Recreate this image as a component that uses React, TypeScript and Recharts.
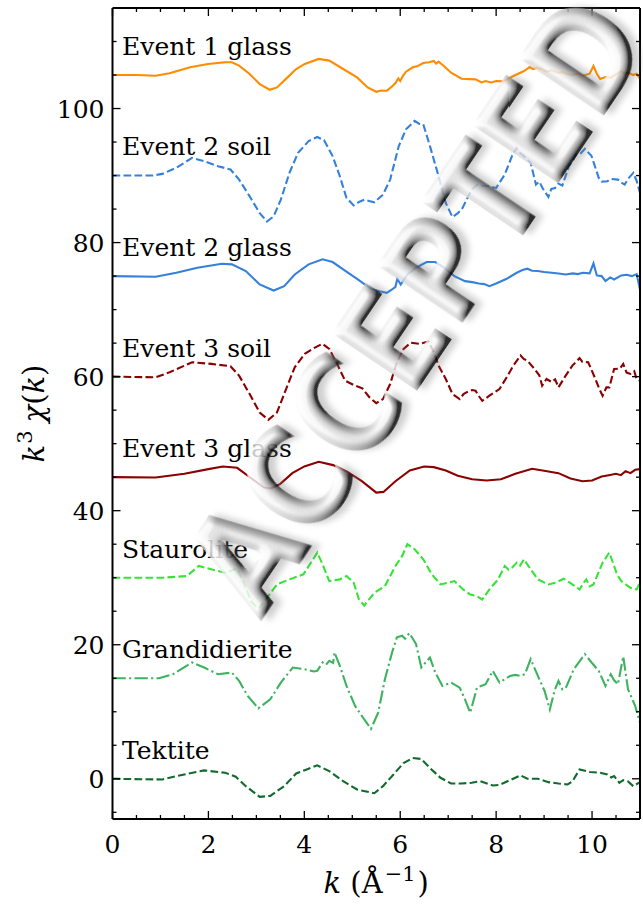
import React from 'react';
import { LineChart, Line, XAxis, YAxis, ReferenceDot } from 'recharts';

type Pt = [number, number];

// k (1/Å) vs k^3 chi(k), each spectrum stored without its vertical stacking offset
const event1Glass: Pt[] = [[0,0],[0.5,0],[0.9,-0.1],[1.19,0.25],[1.62,1.15],[1.99,1.65],[2.35,1.9],[2.49,1.9],[2.64,1.4],[2.86,0.15],[3.07,-1.35],[3.28,-2.2],[3.43,-1.85],[3.65,-0.35],[3.83,0.9],[4.01,1.65],[4.3,2.4],[4.52,2.15],[4.81,0.9],[5.1,-0.35],[5.32,-1.85],[5.5,-2.5],[5.6,-2.3],[5.72,-2.35],[5.83,-1.7],[5.9,-1.2],[5.96,-0.5],[6.0,-0.9],[6.05,-0.2],[6.12,0.5],[6.26,1.15],[6.35,1.3],[6.48,1.8],[6.6,1.9],[6.7,2.1],[6.75,1.7],[6.8,2.0],[6.91,1.35],[7.06,0.35],[7.28,-0.55],[7.57,-0.65],[7.7,-1.1],[7.78,-0.9],[7.9,-1.1],[8.0,-0.9],[8.14,-0.95],[8.36,-0.15],[8.58,0.6],[8.7,1.2],[8.77,0.9],[8.85,1.1],[8.96,0.85],[9.05,0.5],[9.16,0.7],[9.3,0.3],[9.38,0.45],[9.5,0.1],[9.6,0.0],[9.7,0.2],[9.81,-0.1],[9.95,0.2],[10.03,1.35],[10.1,0.2],[10.17,-0.6],[10.28,-0.3],[10.39,-0.4],[10.5,0.1],[10.61,0.6],[10.68,0.2],[10.75,0.4],[10.85,0.0],[10.93,0.2],[11.0,-0.6]];

const event2Soil: Pt[] = [[0,0],[0.83,0],[1.04,0.25],[1.33,1.15],[1.66,2.65],[1.91,2.15],[2.2,1.4],[2.46,0.9],[2.64,-0.6],[2.86,-3.1],[3.07,-5.6],[3.22,-6.85],[3.36,-6.1],[3.51,-3.6],[3.69,0.4],[3.87,3.4],[4.09,5.15],[4.27,5.75],[4.41,5.3],[4.59,2.9],[4.74,-0.1],[4.88,-3.35],[5.03,-4.45],[5.15,-3.9],[5.25,-3.6],[5.35,-3.8],[5.46,-4.0],[5.64,-2.85],[5.79,-0.6],[5.97,4.4],[6.12,6.9],[6.3,8.15],[6.4,7.7],[6.48,7.65],[6.62,4.4],[6.8,-0.1],[6.95,-4.1],[7.09,-6.2],[7.2,-5.6],[7.28,-5.1],[7.49,-2.1],[7.6,-1.4],[7.71,-1.5],[7.85,-1.6],[8.0,-1.85],[8.18,0.15],[8.33,2.9],[8.43,4.15],[8.5,3.4],[8.58,2.9],[8.65,2.4],[8.72,1.9],[8.83,-1.35],[8.9,-0.9],[8.97,-1.9],[9.09,-3.2],[9.15,-2.0],[9.23,-1.85],[9.3,-1.2],[9.38,-1.5],[9.52,1.4],[9.6,2.2],[9.67,3.15],[9.75,3.2],[9.85,4.0],[9.99,2.9],[10.14,-0.35],[10.2,-0.9],[10.32,-0.85],[10.4,-0.5],[10.54,-0.6],[10.6,-1.0],[10.68,-1.35],[10.75,-0.5],[10.86,0.4],[10.93,-0.8],[11.0,-2.6]];

const event2Glass: Pt[] = [[0,0],[0.9,-0.1],[1.33,0.5],[1.77,1.25],[2.28,1.85],[2.49,1.75],[2.78,0.75],[3.07,-1.25],[3.36,-2.15],[3.58,-1.5],[3.8,0.25],[4.09,1.75],[4.38,2.5],[4.59,2.1],[4.81,1.0],[5.1,-0.4],[5.39,-1.9],[5.57,-2.25],[5.72,-2.5],[5.83,-2.0],[5.9,-1.6],[5.94,-0.4],[6.01,-1.25],[6.15,0.25],[6.33,1.25],[6.55,2.1],[6.73,2.1],[6.91,1.25],[7.13,0.0],[7.35,-0.75],[7.5,-0.9],[7.64,-1.1],[7.75,-1.2],[7.86,-1.5],[8.0,-1.1],[8.22,-0.4],[8.43,0.5],[8.55,0.9],[8.65,1.1],[8.75,0.8],[8.87,0.75],[9.0,0.6],[9.16,0.5],[9.3,0.4],[9.45,0.25],[9.6,0.4],[9.7,0.3],[9.81,0.5],[9.95,0.4],[10.03,1.9],[10.1,0.1],[10.2,0.0],[10.28,-0.75],[10.38,-0.2],[10.46,-0.5],[10.61,0.1],[10.72,0.2],[10.83,0.0],[10.93,0.3],[11.0,-2.0]];

const event3Soil: Pt[] = [[0,0],[0.9,-0.1],[1.19,0.65],[1.66,2.15],[2.06,1.9],[2.46,1.55],[2.64,0.15],[2.86,-2.6],[3.07,-5.35],[3.25,-6.45],[3.43,-5.35],[3.62,-1.85],[3.8,1.4],[4.01,3.4],[4.2,4.25],[4.38,4.9],[4.52,4.15],[4.7,1.65],[4.85,-0.6],[5.03,-1.25],[5.21,-1.75],[5.36,-3.1],[5.5,-3.95],[5.64,-3.35],[5.79,-1.1],[5.93,2.15],[6.07,4.15],[6.22,5.05],[6.41,4.9],[6.59,5.25],[6.7,3.65],[6.8,1.65],[6.95,-0.35],[7.09,-2.6],[7.24,-3.35],[7.32,-2.6],[7.38,-2.35],[7.5,-2.0],[7.57,-2.1],[7.65,-3.0],[7.71,-3.6],[7.86,-2.85],[8.07,-1.85],[8.22,-0.1],[8.36,1.65],[8.51,3.15],[8.58,2.6],[8.65,2.4],[8.8,1.15],[8.9,0.2],[8.96,-1.35],[9.05,-0.35],[9.16,-0.8],[9.23,-0.4],[9.3,-1.6],[9.45,0.15],[9.59,1.65],[9.74,2.75],[9.8,2.2],[9.92,2.15],[10.07,-0.35],[10.15,-1.8],[10.22,-2.85],[10.3,-1.6],[10.36,-1.6],[10.46,1.15],[10.58,1.2],[10.65,1.9],[10.72,0.6],[10.8,0.4],[10.88,0.8],[10.93,-0.35],[11.0,-0.6]];

const event3Glass: Pt[] = [[0,0],[0.9,-0.05],[1.5,0.5],[2.0,1.2],[2.3,1.6],[2.6,1.4],[2.9,-0.2],[3.15,-1.5],[3.3,-1.7],[3.5,-1.0],[3.75,0.6],[4.0,1.6],[4.3,2.3],[4.6,1.8],[4.9,0.8],[5.2,-0.6],[5.5,-2.3],[5.65,-2.2],[5.9,-0.6],[6.2,1.0],[6.5,1.6],[6.7,1.5],[6.95,1.0],[7.2,0.2],[7.5,-0.3],[7.8,-0.5],[8.1,-0.3],[8.4,0.5],[8.75,1.25],[9.0,0.95],[9.3,0.6],[9.55,-0.2],[9.8,-0.6],[10.0,-0.5],[10.2,0.1],[10.35,0.3],[10.5,0.5],[10.6,0.3],[10.7,0.9],[10.8,0.6],[10.9,1.1],[11.0,1.2]];

const staurolite: Pt[] = [[0,0],[1.04,0],[1.55,0.25],[1.8,1.75],[2.06,1.25],[2.35,0.75],[2.6,1.35],[2.75,-1.0],[2.89,-3.5],[3.04,-4.65],[3.22,-3.0],[3.43,-1.0],[3.69,-0.25],[3.98,0.5],[4.16,2.5],[4.27,3.75],[4.38,2.0],[4.52,-0.5],[4.74,-0.25],[4.88,0.25],[5.03,-0.75],[5.14,-3.25],[5.25,-4.15],[5.46,-2.25],[5.68,-1.25],[5.9,1.75],[6.04,3.25],[6.15,5.0],[6.3,4.25],[6.48,2.75],[6.66,0.5],[6.84,-1.0],[6.99,-0.75],[7.13,-0.5],[7.31,-1.75],[7.46,-2.5],[7.6,-2.75],[7.71,-3.25],[7.86,-1.75],[8.04,-0.25],[8.18,1.75],[8.26,1.2],[8.33,1.5],[8.43,2.25],[8.5,1.8],[8.58,2.75],[8.72,1.25],[8.87,-0.25],[9.09,-1.0],[9.23,-0.75],[9.41,-0.15],[9.56,-0.85],[9.74,-1.75],[9.82,-0.8],[9.88,-0.25],[9.95,-1.3],[10.03,-1.0],[10.22,2.25],[10.36,3.75],[10.46,1.75],[10.52,0.5],[10.61,-0.5],[10.8,-1.5],[10.93,-1.75],[11.0,-0.75]];

const grandidierite: Pt[] = [[0,0],[0.97,0],[1.26,0.6],[1.66,2.35],[1.91,1.6],[2.2,0.6],[2.49,0.85],[2.64,-0.4],[2.82,-2.65],[3.04,-4.5],[3.29,-3.15],[3.51,-0.65],[3.76,1.6],[4.01,1.35],[4.2,1.0],[4.27,1.1],[4.38,2.35],[4.45,2.0],[4.52,2.6],[4.6,2.3],[4.63,3.85],[4.74,1.85],[4.88,-1.15],[5.06,-4.15],[5.25,-6.15],[5.39,-7.55],[5.54,-5.15],[5.68,-0.15],[5.83,3.85],[5.93,6.1],[6.04,6.35],[6.1,5.9],[6.19,6.75],[6.33,5.1],[6.44,1.6],[6.62,3.1],[6.73,0.85],[6.88,-1.15],[7.06,-0.65],[7.24,-1.4],[7.35,-3.15],[7.46,-5.15],[7.6,-1.4],[7.78,-0.9],[7.93,1.1],[8.07,-0.65],[8.29,0.35],[8.4,0.5],[8.51,0.35],[8.6,0.6],[8.72,2.85],[8.87,0.35],[9.01,-1.9],[9.12,-4.65],[9.22,-1.8],[9.3,-0.4],[9.38,-1.65],[9.45,-1.5],[9.62,1.35],[9.85,3.6],[9.99,2.35],[10.14,1.1],[10.28,-1.15],[10.39,0.6],[10.46,-0.3],[10.54,-0.9],[10.65,3.25],[10.75,-1.65],[10.9,-4.15],[11.0,-6.65]];

const tektite: Pt[] = [[0,0],[1.04,-0.1],[1.33,0.4],[1.91,1.25],[2.35,0.9],[2.57,0.3],[2.78,-1.1],[3.07,-2.7],[3.29,-2.55],[3.58,-1.1],[3.83,0.8],[4.05,1.4],[4.27,2.0],[4.52,1.15],[4.81,-0.35],[5.1,-1.6],[5.46,-2.15],[5.64,-1.1],[5.86,0.65],[6.07,2.35],[6.26,3.1],[6.44,2.95],[6.62,1.6],[6.84,0.15],[7.06,-0.7],[7.28,-0.7],[7.49,-0.6],[7.67,-0.35],[7.93,-1.0],[8.07,-0.9],[8.29,-0.2],[8.51,0.5],[8.65,0.0],[8.87,0.0],[9.09,-0.5],[9.3,-0.7],[9.49,-0.85],[9.59,-0.4],[9.74,1.4],[9.96,1.0],[10.17,0.9],[10.32,0.65],[10.4,0.2],[10.46,0.4],[10.57,-0.6],[10.65,-0.2],[10.75,-0.4],[10.86,-1.1],[11.0,-0.5]];

const seriesNames = ['Event 1 glass', 'Event 2 soil', 'Event 2 glass', 'Event 3 soil', 'Event 3 glass', 'Staurolite', 'Grandidierite', 'Tektite'];
const seriesValues = [event1Glass, event2Soil, event2Glass, event3Soil, event3Glass, staurolite, grandidierite, tektite];
const seriesOffsets = [105, 90, 75, 60, 45, 30, 15, 0];
const seriesColors = ['#ff8c00', '#3580dc', '#3580dc', '#8b0000', '#8b0000', '#36e336', '#3cb35e', '#126b2c'];
const seriesDashes = ['', '7.7 3.3', '', '7.7 3.3', '', '7.7 3.3', '13.3 3.3 2.1 3.3', '7.7 3.3'];

const xTicks = [0, 0.5, 1, 1.5, 2, 2.5, 3, 3.5, 4, 4.5, 5, 5.5, 6, 6.5, 7, 7.5, 8, 8.5, 9, 9.5, 10, 10.5];
const yTicks = [-5, 0, 5, 10, 15, 20, 25, 30, 35, 40, 45, 50, 55, 60, 65, 70, 75, 80, 85, 90, 95, 100, 105, 110];
const labelK = 0.2;
const labelLift = 3;
const stampText = 'ACCEPTED';

const SERIF = '"DejaVu Serif", serif';
const MAJOR = 8;
const MINOR = 4;

const series = seriesNames.map((name, i) => ({
  name,
  offset: seriesOffsets[i],
  color: seriesColors[i],
  dash: seriesDashes[i],
  data: seriesValues[i].map(([k, v]) => ({ k, chi: v + seriesOffsets[i] })),
}));

const isMajorX = (v: number) => Math.abs(v % 2) < 1e-9;
const isMajorY = (v: number) => Math.abs(v % 20) < 1e-9;

function BottomTick(props: any) {
  const { x, y, payload } = props;
  const major = isMajorX(payload.value);
  return (
    <g>
      <line x1={x} x2={x} y1={y} y2={y - (major ? MAJOR : MINOR)} stroke="#000" strokeWidth={1.3} />
      {major && (
        <text x={x} y={y + 34} textAnchor="middle" fontSize={25} fontFamily={SERIF} fill="#000">
          {payload.value}
        </text>
      )}
    </g>
  );
}

function TopTick(props: any) {
  const { x, y, payload } = props;
  const major = isMajorX(payload.value);
  return <line x1={x} x2={x} y1={y} y2={y + (major ? MAJOR : MINOR)} stroke="#000" strokeWidth={1.3} />;
}

function LeftTick(props: any) {
  const { x, y, payload } = props;
  const major = isMajorY(payload.value);
  return (
    <g>
      <line x1={x} x2={x + (major ? MAJOR : MINOR)} y1={y} y2={y} stroke="#000" strokeWidth={1.3} />
      {major && (
        <text x={x - 8} y={y + 9} textAnchor="end" fontSize={25} fontFamily={SERIF} fill="#000">
          {payload.value}
        </text>
      )}
    </g>
  );
}

function RightTick(props: any) {
  const { x, y, payload } = props;
  const major = isMajorY(payload.value);
  return <line x1={x} x2={x - (major ? MAJOR : MINOR)} y1={y} y2={y} stroke="#000" strokeWidth={1.3} />;
}

function XTitle(props: any) {
  const vb = props.viewBox;
  const cx = vb.x + vb.width / 2;
  return (
    <text x={cx} y={vb.y + 74} textAnchor="middle" fontSize={29} fontFamily={SERIF} fill="#000">
      <tspan fontStyle="italic">k</tspan>
      <tspan> (Å</tspan>
      <tspan fontSize={21} dy={-12} dx={2}>−1</tspan>
      <tspan dy={12} dx={2}>)</tspan>
    </text>
  );
}

function YTitle(props: any) {
  const vb = props.viewBox;
  const cx = vb.x + 31;
  const cy = vb.y + vb.height / 2;
  return (
    <text x={cx} y={cy} transform={`rotate(-90 ${cx} ${cy})`} textAnchor="middle" fontSize={29} fontFamily={SERIF} fill="#000">
      <tspan fontStyle="italic">k</tspan>
      <tspan fontSize={21} dy={-12} dx={1}>3</tspan>
      <tspan dy={12} dx={8} fontStyle="italic">χ</tspan>
      <tspan>(</tspan>
      <tspan fontStyle="italic">k</tspan>
      <tspan>)</tspan>
    </text>
  );
}

const makeNameLabel = (text: string) => (props: any) => {
  const vb = props.viewBox;
  return (
    <text x={vb.x} y={vb.y} fontSize={25} fontFamily={SERIF} fill="#000">
      {text}
    </text>
  );
};

const spine = { stroke: '#000', strokeWidth: 2 };

const stampFont = '"DejaVu Sans", sans-serif';

export default function App() {
  return (
    <div style={{ position: 'absolute', left: 0, top: 0, width: 643, height: 909, background: '#fff' }}>
      <LineChart width={643} height={909} margin={{ top: 3, right: 0, bottom: 30, left: 12.5 }}>
        <XAxis
          xAxisId="b"
          dataKey="k"
          type="number"
          domain={[0, 11]}
          allowDataOverflow
          ticks={xTicks}
          interval={0}
          height={60}
          tickSize={0}
          tickMargin={0}
          tickLine={false}
          axisLine={spine}
          tick={BottomTick}
          label={{ content: XTitle }}
        />
        <XAxis
          xAxisId="t"
          orientation="top"
          dataKey="k"
          type="number"
          domain={[0, 11]}
          allowDataOverflow
          ticks={xTicks}
          interval={0}
          height={5}
          tickSize={0}
          tickMargin={0}
          tickLine={false}
          axisLine={spine}
          tick={TopTick}
        />
        <YAxis
          yAxisId="l"
          type="number"
          domain={[-6, 115]}
          allowDataOverflow
          ticks={yTicks}
          interval={0}
          width={100}
          tickSize={0}
          tickMargin={0}
          tickLine={false}
          axisLine={spine}
          tick={LeftTick}
          label={{ content: YTitle }}
        />
        <YAxis
          yAxisId="r"
          orientation="right"
          type="number"
          domain={[-6, 115]}
          allowDataOverflow
          ticks={yTicks}
          interval={0}
          width={3}
          tickSize={0}
          tickMargin={0}
          tickLine={false}
          axisLine={spine}
          tick={RightTick}
        />
        {series.map((s) => (
          <Line
            key={s.name}
            xAxisId="b"
            yAxisId="l"
            data={s.data}
            dataKey="chi"
            type="linear"
            stroke={s.color}
            strokeWidth={2.1}
            strokeDasharray={s.dash || undefined}
            dot={false}
            activeDot={false}
            isAnimationActive={false}
          />
        ))}
        {series.map((s) => (
          <ReferenceDot
            key={'lbl-' + s.name}
            xAxisId="b"
            yAxisId="l"
            x={labelK}
            y={s.offset + labelLift}
            r={0}
            fill="none"
            stroke="none"
            label={{ content: makeNameLabel(s.name) }}
          />
        ))}
      </LineChart>
      <svg width={643} height={909} style={{ position: 'absolute', left: 0, top: 0, pointerEvents: 'none' }}>
        <defs>
          <filter id="stampBevel" x="-20%" y="-20%" width="140%" height="140%">
            <feGaussianBlur in="SourceAlpha" stdDeviation="4.5" result="blur" />
            <feDiffuseLighting in="blur" surfaceScale="7" diffuseConstant="1.1" lightingColor="#ececec" result="diff">
              <feDistantLight azimuth="235" elevation="42" />
            </feDiffuseLighting>
            <feComposite in="diff" in2="SourceAlpha" operator="in" result="diffIn" />
            <feSpecularLighting in="blur" surfaceScale="7" specularConstant="0.9" specularExponent="14" lightingColor="#ffffff" result="spec">
              <feDistantLight azimuth="235" elevation="42" />
            </feSpecularLighting>
            <feComposite in="spec" in2="SourceAlpha" operator="in" result="specIn" />
            <feComposite in="diffIn" in2="specIn" operator="arithmetic" k1="0" k2="1" k3="0.8" k4="0" />
          </filter>
          <filter id="stampShadow" x="-20%" y="-20%" width="140%" height="140%">
            <feGaussianBlur stdDeviation="3" />
          </filter>
        </defs>
        <g transform="rotate(-56 417 305)">
          <text x={422} y={311} textAnchor="middle" dominantBaseline="central" fontFamily={stampFont} fontWeight="bold" fontSize={140} textLength={700} lengthAdjust="spacingAndGlyphs" fill="#777" opacity={0.35} filter="url(#stampShadow)">{stampText}</text>
          <text x={417} y={305} textAnchor="middle" dominantBaseline="central" fontFamily={stampFont} fontWeight="bold" fontSize={140} textLength={700} lengthAdjust="spacingAndGlyphs" fill="#c4c4c4" opacity={0.78} filter="url(#stampBevel)">{stampText}</text>
        </g>
      </svg>
    </div>
  );
}
